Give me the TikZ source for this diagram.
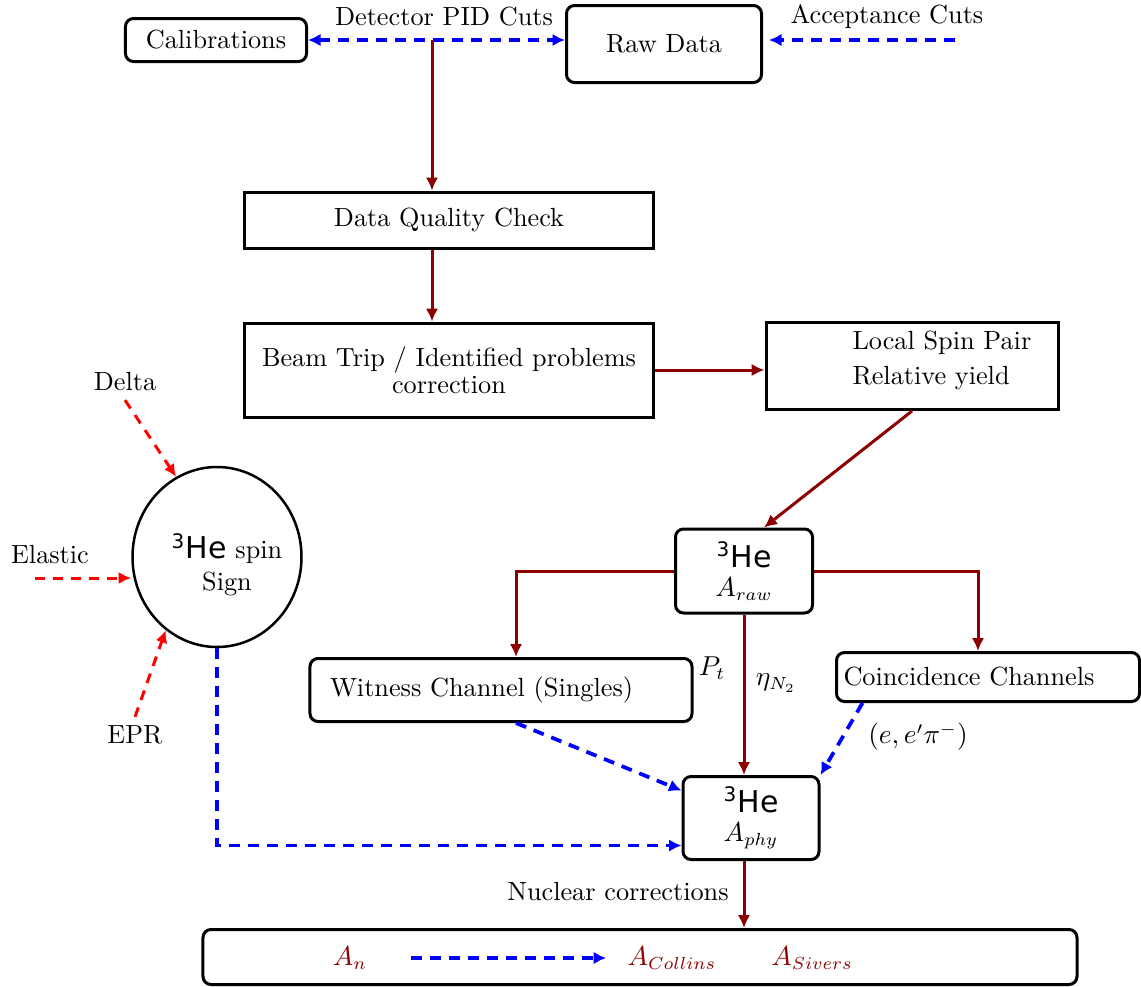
\documentclass[tikz,border=0pt]{standalone}
\usepackage{tikz}
\usepackage{amsmath}
\usepackage{fontspec}
\usepackage[dvipsnames]{xcolor}
\usetikzlibrary{arrows,arrows.meta,shapes.geometric}

\newfontfamily\hefont{DejaVu Sans}
\newcommand{\helium}{{\hefont\fontsize{12}{12}\selectfont\textsuperscript{3}He}}
\definecolor{flowred}{RGB}{140,0,0}

\tikzset{
    sqbox/.style={draw, line width=1.2pt, inner sep=0pt},
    rbox/.style={sqbox, rounded corners=3.2pt},
    flowlink/.style={-{Latex[length=5.2pt, width=5pt]}, color=flowred, line width=1.2pt},
    bluelink/.style={-{Latex[length=5pt, width=5pt]}, color=blue, line width=1.5pt, dash pattern=on 4.4pt off 3.2pt},
    redlink/.style={-{Latex[length=5pt, width=4.8pt]}, color=red, line width=1.2pt, dash pattern=on 4pt off 3.2pt}
}

\begin{document}
\begin{tikzpicture}[x=0.4pt, y=-0.4pt, font=\fontsize{10.5}{12.6}\selectfont]
    \useasboundingbox (0,0) rectangle (1141,987);

    % top row
    \node[rbox, minimum width=72.4pt, minimum height=17.2pt] (calib) at (216,40) {Calibrations};
    \node[rbox, minimum width=78pt, minimum height=30.8pt] (raw) at (664,44) {Raw Data};
    \node[] (pidcuts) at (444,17) {Detector PID Cuts};
    \node[] (acccuts) at (887,17) {Acceptance Cuts};
    \coordinate (pid) at (432,40);
    \coordinate (accin) at (955,40);
    \draw[bluelink, {Latex[length=5pt, width=5pt]}-{Latex[length=5pt, width=5pt]}] (calib.east) -- (raw.west |- calib.east);
    \draw[bluelink, shorten >=2.4pt] (accin) -- (accin -| raw.east);

    \node[sqbox, minimum width=163.2pt, minimum height=22.4pt] (dqc) at (449,220) {Data Quality Check};
    \node[sqbox, minimum width=163.2pt, minimum height=37.6pt, align=center,
          font=\fontsize{10.5}{10.8}\selectfont] (trip) at (449,370) {Beam Trip / Identified problems\\correction};
    \node[sqbox, minimum width=116.8pt, minimum height=34.8pt] (lsp) at (912,366) {};
    \node[anchor=west, align=left, inner sep=0pt, font=\fontsize{10.5}{14}\selectfont] (lsptext) at (852,360) {Local Spin Pair\\Relative yield};

    \draw[flowlink] (pid) -- (pid |- dqc.north);
    \draw[flowlink] (pid |- dqc.south) -- (pid |- trip.north);
    \draw[flowlink] (trip.east) -- (trip.east -| lsp.west);

    % spin sign circle
    \node[draw, ellipse, line width=1pt, minimum width=67.6pt, minimum height=72pt, inner sep=0pt,
          label={[align=center, xshift=4pt, yshift=-3pt]center:\helium{} spin\\Sign}] (sign) at (217,557) {};
    \node[] (delta) at (125,382) {Delta};
    \node[] (elastic) at (50,555) {Elastic};
    \node[] (epr) at (135,735) {EPR};
    \coordinate (elin) at (35,578);
    \draw[redlink] (delta.south) -- (sign.117);
    \draw[redlink] (elin) -- (elin -| sign.west);
    \draw[redlink] (epr.north) -- (sign.235);

    % asymmetries
    \node[rbox, minimum width=54.8pt, minimum height=33.6pt, align=center] (araw) at (744,571) {\helium\\[-1pt]$A_{raw}$};
    \node[rbox, minimum width=152.8pt, minimum height=25.2pt, text width=136.8pt, align=left] (wit) at (501,690) {Witness Channel (Singles)};
    \node[rbox, minimum width=121.2pt, minimum height=19.6pt, text width=115.6pt, align=left] (coin) at (988,677) {Coincidence Channels};
    \node[rbox, minimum width=54.4pt, minimum height=33.2pt, align=center] (aphy) at (751,818) {\helium\\[-1pt]$A_{phy}$};
    \node[] (pt) at (712,668) {$P_t$};
    \node[] (eta) at (776,683) {$\eta_{N_2}$};
    \node[] (pair) at (918,737) {$(e,e'\pi^-)$};

    \draw[flowlink] (lsp.south) -- ([xshift=8pt]araw.north);
    \draw[flowlink] (araw.west) -| ([xshift=6pt]wit.north);
    \draw[flowlink] (araw.east) -| ([xshift=-4pt]coin.north);
    \draw[flowlink] (araw.south) -- (araw.south |- aphy.north);
    \draw[bluelink] ([xshift=6pt]wit.south) -- ([yshift=11pt]aphy.west);
    \draw[bluelink] ([xshift=11pt]coin.south west) -- (aphy.north east);
    \draw[bluelink] (sign.south) |- ([yshift=-11pt]aphy.west);

    % results
    \node[rbox, minimum width=349.6pt, minimum height=22pt] (res) at (640,957) {};
    \node[] (nuc) at (618,892) {Nuclear corrections};
    \node[text=flowred] (an) at (350,958) {$A_n$};
    \node[text=flowred] (acol) at (672,958) {$A_{Collins}$};
    \node[text=flowred] (asiv) at (812,958) {$A_{Sivers}$};
    \draw[flowlink] (araw.south |- aphy.south) -- (araw.south |- res.north);
    \draw[bluelink, shorten <=14pt, shorten >=5pt] (an) -- (acol);

\end{tikzpicture}
\end{document}
